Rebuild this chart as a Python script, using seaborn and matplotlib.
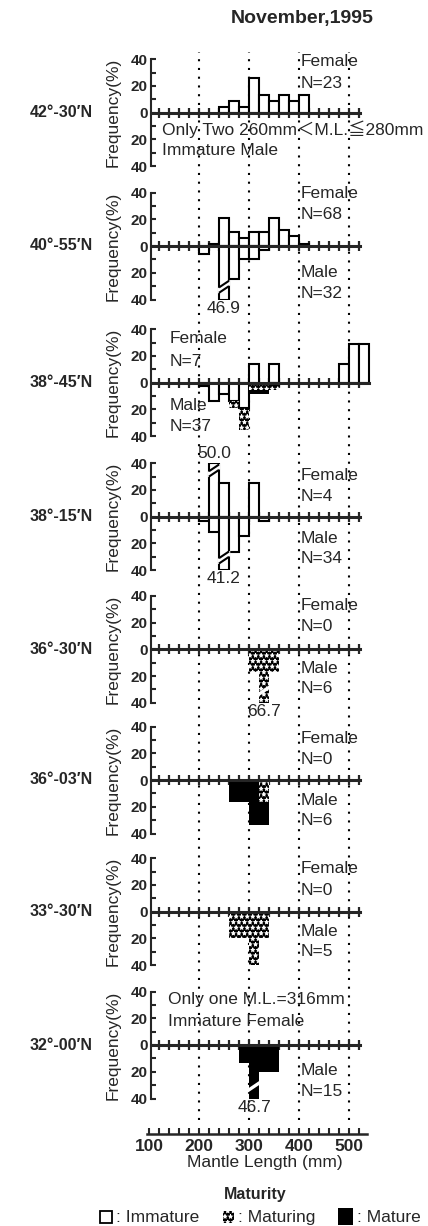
import numpy as np
import seaborn as sns
import matplotlib.pyplot as plt
from matplotlib.patches import Rectangle, Polygon

# ======| Data: frequency (%) per 20 mm mantle length class |======

# lower limit of each class (mm)
bins = [200, 220, 240, 260, 280, 300, 320, 340, 360, 380, 400, 420, 440, 460, 480, 500, 520]

latitudes = ["42°-30′N", "40°-55′N", "38°-45′N", "38°-15′N",
             "36°-30′N", "36°-03′N", "33°-30′N", "32°-00′N"]
n_female = [23, 68, 7, 4, 0, 0, 0, None]
n_male = [None, 32, 37, 34, 6, 6, 5, 15]

female_immature = [
    [0, 0, 4.3, 8.7, 4.3, 26.1, 13.0, 8.7, 13.0, 8.7, 13.0, 0, 0, 0, 0, 0, 0],
    [0, 1.5, 20.6, 10.3, 5.9, 10.3, 10.3, 20.6, 11.8, 7.4, 1.5, 0, 0, 0, 0, 0, 0],
    [0, 0, 0, 0, 0, 14.3, 0, 14.3, 0, 0, 0, 0, 0, 0, 14.3, 28.6, 28.6],
    [0, 50.0, 25.0, 0, 0, 25.0, 0, 0, 0, 0, 0, 0, 0, 0, 0, 0, 0],
    [0] * 17,
    [0] * 17,
    [0] * 17,
    [0] * 17,
]
male_immature = [
    [0] * 17,
    [6.3, 0, 46.9, 25.0, 9.4, 9.4, 3.1, 0, 0, 0, 0, 0, 0, 0, 0, 0, 0],
    [2.7, 13.5, 8.1, 13.5, 18.9, 0, 0, 2.7, 0, 0, 0, 0, 0, 0, 0, 0, 0],
    [2.9, 11.8, 41.2, 26.5, 14.7, 0, 2.9, 0, 0, 0, 0, 0, 0, 0, 0, 0, 0],
    [0] * 17,
    [0] * 17,
    [0] * 17,
    [0] * 17,
]
male_maturing = [
    [0] * 17,
    [0] * 17,
    [0, 0, 0, 5.4, 16.2, 5.4, 5.4, 2.7, 0, 0, 0, 0, 0, 0, 0, 0, 0],
    [0] * 17,
    [0, 0, 0, 0, 0, 16.7, 66.7, 16.7, 0, 0, 0, 0, 0, 0, 0, 0, 0],
    [0, 0, 0, 0, 0, 0, 16.7, 0, 0, 0, 0, 0, 0, 0, 0, 0, 0],
    [0, 0, 0, 20.0, 20.0, 40.0, 20.0, 0, 0, 0, 0, 0, 0, 0, 0, 0, 0],
    [0] * 17,
]
male_mature = [
    [0] * 17,
    [0] * 17,
    [0, 0, 0, 0, 0, 2.7, 2.7, 0, 0, 0, 0, 0, 0, 0, 0, 0, 0],
    [0] * 17,
    [0] * 17,
    [0, 0, 0, 16.7, 16.7, 33.3, 16.7, 0, 0, 0, 0, 0, 0, 0, 0, 0, 0],
    [0] * 17,
    [0, 0, 0, 0, 13.3, 46.7, 20.0, 20.0, 0, 0, 0, 0, 0, 0, 0, 0, 0],
]

notes = {
    0: ("Only Two 260mm＜M.L.≦280mm", "Immature Male"),
    7: ("Only one M.L.=316mm", "Immature Female"),
}

# ======| Layout |======

W, H = 428, 1226
zero_y = [112.7, 246.0, 382.7, 516.7, 649.3, 780.0, 911.7, 1045.0]
axis_end = [522, 522, 540, 522, 522, 522, 522, 522]
sex_x = [404, 403, 142, 403, 403, 403, 403, 403]
female_y = [(38, 22), (39.5, 23.5), (33, 16), (31, 15), (33, 17), (31, 15), (32.5, 16), None]
male_y = [None, (-20, -35.5), (-17, -32.5), (-16, -31), (-14, -29), (-15, -30), (-15, -30), (-19, -35)]
note_pos = {0: (125, -12.4, -28.6), 7: (137, 34, 17.5)}
X0, X1 = 104, 545
HALF = 53.5
BW = 20
HATCH = "***"

sns.set_style("ticks")
plt.rcParams["font.family"] = ["Liberation Sans", "Noto Sans CJK JP", "DejaVu Sans"]
plt.rcParams["hatch.linewidth"] = 0.6
FS = 11      # tick labels
FT = 12.5    # annotations

fig = plt.figure(figsize=(W / 100, H / 100), dpi=100)
fig.patch.set_facecolor("white")


def mm2px(m):
    return 149 + (m - 100) * 0.5


def add_px_axes(x0, x1, top, height):
    return fig.add_axes([mm2px(x0) / W, 1 - (top + height) / H,
                         (x1 - x0) * 0.5 / W, height / H])


def maturing_bars(ax, x, heights, bottoms):
    ax.bar(x, heights, BW, bottom=bottoms, align="edge", color="black", lw=0, zorder=1)
    ax.bar(x, heights, BW, bottom=bottoms, align="edge", facecolor="none",
           edgecolor="white", hatch=HATCH, lw=0, zorder=1.1)


def draw_break(ax, left, sign, outlined):
    gap = 4 if outlined else 3
    ya = 30 if sign > 0 else -35
    xl, xr = left - 2.5, left + BW + 2.5
    yl, yr = ya - 0.625, ya + 5.625
    poly = Polygon([(xl, yl), (xr, yr), (xr, yr + gap), (xl, yl + gap)],
                   closed=True, facecolor="white", edgecolor="none", zorder=1.2)
    ax.add_patch(poly)
    if outlined:
        for d in (0, gap):
            ax.plot([left, left + BW], [ya + d, ya + 5 + d], color="black", lw=1.5,
                    zorder=1.3, solid_capstyle="butt")


# dotted guide lines behind all panels
bg = add_px_axes(X0, X1, 52, 1068)
bg.set_xlim(X0, X1)
bg.set_ylim(0, 1)
bg.axis("off")
for m in [200, 300, 400, 500]:
    bg.axvline(m, color="black", lw=1.5, ls=(0, (1, 3.2)))

x = np.array(bins)
for i, lat in enumerate(latitudes):
    ax = add_px_axes(X0, X1, zero_y[i] - HALF, 2 * HALF)
    ax.set_facecolor("none")
    ax.set_xlim(X0, X1)
    ax.set_ylim(-40, 40)
    sns.despine(ax=ax)
    ax.spines["bottom"].set_position(("data", 0))
    ax.spines["bottom"].set_bounds(X0, axis_end[i])
    ax.spines["bottom"].set_linewidth(2.2)
    ax.spines["left"].set_linewidth(1.5)
    ax.set_xticks(np.arange(120, 540, 20))
    ax.tick_params(axis="x", direction="inout", length=6.5, width=1.6, labelbottom=False)
    ax.set_yticks([-40, -20, 0, 20, 40])
    ax.set_yticklabels(["40", "20", "0", "20", "40"], fontweight="bold", fontsize=FS)
    ax.set_yticks([-30, -10, 10, 30], minor=True)
    ax.tick_params(axis="y", which="both", direction="in", length=3.6, width=1.5, pad=2.5)

    # females, upwards
    f = np.array(female_immature[i])
    m = f > 0
    ax.bar(x[m], np.minimum(f[m], 40), BW, align="edge", facecolor="white",
           edgecolor="black", lw=1.5, zorder=1)
    for left, v in zip(x[f > 40], f[f > 40]):
        draw_break(ax, left, 1, True)
        ax.text(left + BW / 2, 47, f"{v:.1f}", ha="center", va="center",
                fontsize=FT, clip_on=False)

    # males, downwards: immature, maturing, mature stacked
    imm = np.array(male_immature[i])
    mat = np.array(male_maturing[i])
    mtr = np.array(male_mature[i])
    c1 = np.minimum(imm, 40)
    c2 = np.minimum(imm + mat, 40)
    c3 = np.minimum(imm + mat + mtr, 40)
    m = imm > 0
    ax.bar(x[m], -c1[m], BW, align="edge", facecolor="white",
           edgecolor="black", lw=1.5, zorder=1)
    m = mat > 0
    if m.any():
        maturing_bars(ax, x[m], -(c2[m] - c1[m]), -c1[m])
    m = mtr > 0
    ax.bar(x[m], -(c3[m] - c2[m]), BW, bottom=-c2[m], align="edge",
           color="black", lw=0, zorder=1)
    total = imm + mat + mtr
    for left, v, a in zip(x[total > 40], total[total > 40], imm[total > 40]):
        draw_break(ax, left, -1, a >= 35)
        ax.text(left + BW / 2, -46.5, f"{v:.1f}", ha="center", va="center",
                fontsize=FT, clip_on=False)

    # sex labels
    if female_y[i] is not None:
        ax.text(sex_x[i], female_y[i][0], "Female", ha="left", va="center", fontsize=FT)
        ax.text(sex_x[i], female_y[i][1], f"N={n_female[i]}", ha="left", va="center", fontsize=FT)
    if male_y[i] is not None:
        ax.text(sex_x[i], male_y[i][0], "Male", ha="left", va="center", fontsize=FT)
        ax.text(sex_x[i], male_y[i][1], f"N={n_male[i]}", ha="left", va="center", fontsize=FT)
    if i in notes:
        nx, ny1, ny2 = note_pos[i]
        ax.text(nx, ny1, notes[i][0], ha="left", va="center", fontsize=FT)
        ax.text(nx, ny2, notes[i][1], ha="left", va="center", fontsize=FT)

    fig.text(93 / W, 1 - zero_y[i] / H, lat, ha="right", va="center",
             fontsize=11.5, fontweight="bold")
    fig.text(113 / W, 1 - zero_y[i] / H, "Frequency(%)", rotation=90,
             ha="center", va="center", fontsize=FT)

# ======| Mantle length axis |======

axb = add_px_axes(95, X1, 1124, 10)
axb.set_facecolor("none")
axb.set_xlim(95, X1)
axb.set_ylim(0, 1)
sns.despine(ax=axb, left=True)
axb.spines["bottom"].set_bounds(95, 535)
axb.spines["bottom"].set_linewidth(1.8)
axb.set_yticks([])
axb.set_xticks([100, 200, 300, 400, 500])
axb.set_xticklabels(["100", "200", "300", "400", "500"], fontweight="bold", fontsize=12.5)
axb.set_xticks(np.arange(100, 540, 20), minor=True)
axb.tick_params(axis="x", which="both", direction="in", length=4, width=1.5, pad=3.5)

fig.text(265 / W, 1 - 1163 / H, "Mantle Length (mm)", ha="center", va="center", fontsize=FT)
fig.text(302 / W, 1 - 19 / H, "November,1995", ha="center", va="center",
         fontsize=14, fontweight="bold")

# ======| Maturity legend |======

fig.text(255 / W, 1 - 1194 / H, "Maturity", ha="center", va="center",
         fontsize=11.5, fontweight="bold")


def fig_rect(x0, y0, w, h, **kw):
    fig.patches.append(Rectangle((x0 / W, 1 - (y0 + h) / H), w / W, h / H,
                                 transform=fig.transFigure, figure=fig, **kw))


LEG_BASE = 1 - 1222 / H
fig_rect(100, 1211, 12, 12, facecolor="white", edgecolor="black", lw=1.3)
fig.text(116 / W, LEG_BASE, ": Immature", ha="left", va="baseline", fontsize=FT)
fig_rect(223, 1211, 11, 12, facecolor="black", edgecolor="black", lw=0)
fig_rect(223, 1211, 11, 12, facecolor="none", edgecolor="white", hatch=HATCH, lw=0)
fig.text(238 / W, LEG_BASE, ": Maturing", ha="left", va="baseline", fontsize=FT)
fig_rect(338, 1208, 15, 17, facecolor="black", edgecolor="black", lw=0)
fig.text(357 / W, LEG_BASE, ": Mature", ha="left", va="baseline", fontsize=FT)

fig.savefig("out.png", dpi=100)
